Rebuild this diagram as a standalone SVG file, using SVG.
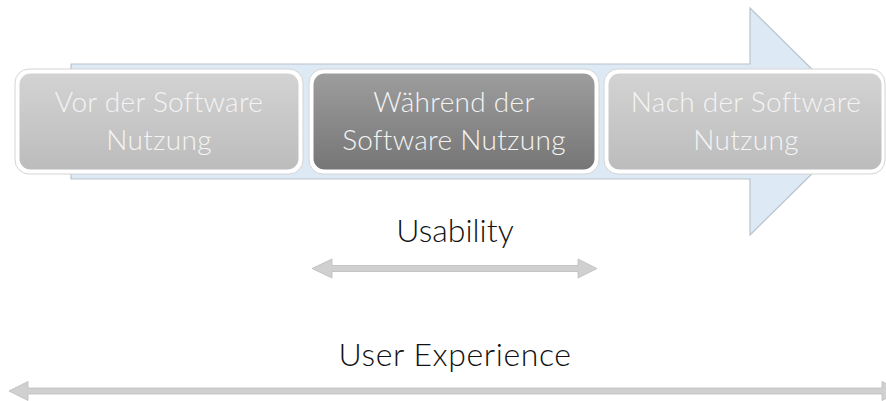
<svg xmlns="http://www.w3.org/2000/svg" width="886" height="401" viewBox="0 0 886 401">
  <defs>
    <linearGradient id="gLight" x1="0" y1="0" x2="0" y2="1">
      <stop offset="0" stop-color="#d3d3d3"/>
      <stop offset="1" stop-color="#bcbcbc"/>
    </linearGradient>
    <linearGradient id="gDark" x1="0" y1="0" x2="0" y2="1">
      <stop offset="0" stop-color="#9d9d9d"/>
      <stop offset="1" stop-color="#767676"/>
    </linearGradient>
    <style>
      .frame { fill: #ffffff; stroke: #d4d4d4; stroke-width: 1; }
      .label { font-family: Lato, "Open Sans", sans-serif; font-weight: 300; font-size: 28px; letter-spacing: 0.3px; fill: #f4f4f4; text-anchor: middle; }
      .caption { font-family: Lato, "Open Sans", sans-serif; font-weight: 300; fill: #111111; text-anchor: middle; }
      .span { fill: #d0d0d0; stroke: #bdbdbd; stroke-width: 0.8; }
    </style>
  </defs>

  <!-- process arrow behind the phases -->
  <path id="flow" d="M71 64 H750 V8 L865 121.5 L750 235 V179 H71 Z" fill="#dde9f5" stroke="#b9c3cd" stroke-width="1.2"/>

  <g id="phase-before">
    <rect class="frame" x="15" y="69" width="288" height="105" rx="14"/>
    <rect x="19.5" y="73.5" width="279" height="96" rx="11" fill="url(#gLight)"/>
    <text class="label" x="159" y="112">Vor der Software</text>
    <text class="label" x="159" y="150">Nutzung</text>
  </g>

  <g id="phase-during">
    <rect class="frame" x="309" y="69" width="290" height="105" rx="14"/>
    <rect x="313.5" y="73.5" width="281" height="96" rx="11" fill="url(#gDark)"/>
    <text class="label" x="454" y="112">Während der</text>
    <text class="label" x="454" y="150">Software Nutzung</text>
  </g>

  <g id="phase-after">
    <rect class="frame" x="604" y="69" width="281" height="105" rx="14"/>
    <rect x="608.5" y="73.5" width="273" height="96" rx="11" fill="url(#gLight)"/>
    <text class="label" x="746" y="112">Nach der Software</text>
    <text class="label" x="746" y="150">Nutzung</text>
  </g>

  <g id="label-usability">
    <text class="caption" x="455" y="242" font-size="32">Usability</text>
  </g>
  <g id="label-ux">
    <text class="caption" x="455" y="366" font-size="32" letter-spacing="0.6">User Experience</text>
  </g>

  <g id="connectors">
    <!-- Usability span -->
    <path class="span" d="M312 268.5 L332 259 V265.5 H578 V259 L597 268.5 L578 278 V271.5 H332 V278 Z"/>
    <!-- User Experience span -->
    <path class="span" d="M9 391 L28 381.5 V388 H882 V381.5 L901 391 L882 400.5 V394 H28 V400.5 Z"/>
  </g>
</svg>
